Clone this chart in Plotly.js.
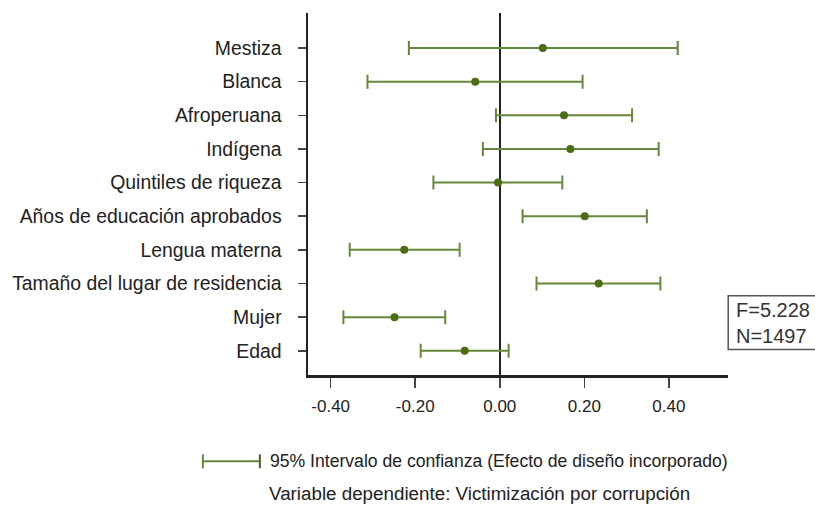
<!DOCTYPE html>
<html>
<head>
<meta charset="utf-8">
<script src="https://cdn.plot.ly/plotly-3.0.1.min.js"></script>
<style>html,body{margin:0;padding:0;background:#fff;}#chart{width:815px;height:505px;}</style>
</head>
<body>
<div id="chart"></div>
<script>
const categories = ["Mestiza","Blanca","Afroperuana","Indígena","Quintiles de riqueza","Años de educación aprobados","Lengua materna","Tamaño del lugar de residencia","Mujer","Edad"];
const estimate = [0.102, -0.058, 0.152, 0.167, -0.004, 0.201, -0.226, 0.234, -0.249, -0.083];
const lower    = [-0.215, -0.313, -0.009, -0.040, -0.157, 0.054, -0.355, 0.087, -0.370, -0.187];
const upper    = [0.421, 0.196, 0.313, 0.376, 0.148, 0.348, -0.095, 0.380, -0.129, 0.021];
const xTickVals = [-0.4, -0.2, 0, 0.2, 0.4];
const xTickText = ["-0.40", "-0.20", "0.00", "0.20", "0.40"];
const legendText = "95% Intervalo de confianza (Efecto de diseño incorporado)";
const noteText = "Variable dependiente: Victimización por corrupción";
const statsText = "F=5.228<br>N=1497";

const FONT = "'Liberation Sans', Arial, sans-serif";
const green = "#4b6d14";
const barGreen = "#66883a";

const trace = {
  type: "scatter",
  mode: "markers",
  x: estimate,
  y: categories,
  marker: {color: green, size: 8},
  error_x: {
    type: "data",
    symmetric: false,
    array: upper.map((u, i) => u - estimate[i]),
    arrayminus: lower.map((l, i) => estimate[i] - l),
    color: barGreen,
    thickness: 2,
    width: 7
  },
  hoverinfo: "skip",
  showlegend: false
};

const legY = -0.2384;
const capH = 0.0193;

const layout = {
  width: 815, height: 505,
  margin: {l: 308, r: 87, t: 13, b: 130},
  paper_bgcolor: "#fff", plot_bgcolor: "#fff",
  font: {family: FONT, color: "#222", size: 18},
  showlegend: false,
  xaxis: {
    range: [-0.4537, 0.540],
    tickvals: xTickVals, ticktext: xTickText,
    showgrid: false,
    zeroline: true, zerolinecolor: "#222", zerolinewidth: 2.5,
    showline: true, linecolor: "#222", linewidth: 2.5,
    ticks: "outside", ticklen: 10, tickwidth: 1.5, tickcolor: "#444",
    tickfont: {family: FONT, size: 17, color: "#222"},
    ticklabelstandoff: 4,
    fixedrange: true
  },
  yaxis: {
    type: "category",
    categoryorder: "array", categoryarray: categories,
    range: [9.72, -1.04],
    showgrid: false, zeroline: false,
    showline: true, linecolor: "#222", linewidth: 2.5,
    ticks: "outside", ticklen: 8, tickwidth: 1.5, tickcolor: "#444",
    tickfont: {family: FONT, size: 19.4, color: "#222"},
    ticklabelstandoff: 12,
    fixedrange: true
  },
  shapes: [
    {type: "line", xref: "paper", yref: "paper", x0: -0.2503, x1: -0.1146, y0: legY, y1: legY, line: {color: barGreen, width: 2}},
    {type: "line", xref: "paper", yref: "paper", x0: -0.2503, x1: -0.2503, y0: legY + capH, y1: legY - capH, line: {color: barGreen, width: 2}},
    {type: "line", xref: "paper", yref: "paper", x0: -0.1146, x1: -0.1146, y0: legY + capH, y1: legY - capH, line: {color: "#4b5a3a", width: 2}},
    {type: "rect", xref: "paper", yref: "paper", x0: 1.0005, x1: 1.25, y0: 0.0704, y1: 0.2189, line: {color: "#555", width: 1.5}, fillcolor: "rgba(0,0,0,0)"}
  ],
  annotations: [
    {xref: "paper", yref: "paper", x: -0.0952, y: legY, xanchor: "left", yanchor: "middle", text: legendText, showarrow: false, font: {family: FONT, size: 17.6, color: "#222"}},
    {xref: "paper", yref: "paper", x: 0.4083, y: -0.3287, xanchor: "center", yanchor: "middle", text: noteText, showarrow: false, font: {family: FONT, size: 18.8, color: "#222"}},
    {xref: "paper", yref: "paper", x: 1.014, y: 0.1446, xanchor: "left", yanchor: "middle", align: "left", text: statsText, showarrow: false, font: {family: FONT, size: 20, color: "#333"}}
  ]
};

Plotly.newPlot("chart", [trace], layout, {staticPlot: true, displayModeBar: false});
</script>
</body>
</html>
